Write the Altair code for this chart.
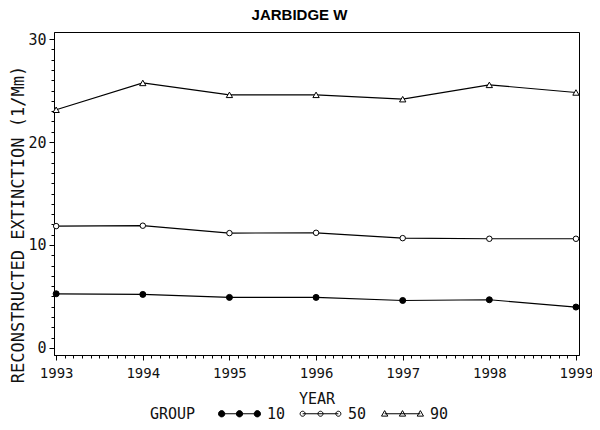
import altair as alt
import pandas as pd

# ---- data ----
years = [1993, 1994, 1995, 1996, 1997, 1998, 1999]
groups = ["10", "50", "90"]
p10 = [5.25, 5.19, 4.90, 4.90, 4.60, 4.67, 3.96]
p50 = [11.83, 11.87, 11.15, 11.18, 10.66, 10.60, 10.60]
p90 = [23.14, 25.75, 24.59, 24.59, 24.17, 25.56, 24.82]

rows = []
for g, vals in zip(groups, [p10, p50, p90]):
    for yr, v in zip(years, vals):
        rows.append({"year": yr, "group": g, "value": v})
df = pd.DataFrame(rows)

# axis tick positions (major + minor)
x_ticks = sorted(set(years + [round(y + k / 10, 1) for y in years[:-1] for k in range(1, 10)]))
y_ticks = list(range(0, 31))

FONT = "DejaVu Sans Mono"
TXT = "#111111"


def circ(cx, r):
    k = 0.5523 * r
    return (f"M {cx - r} 0 C {cx - r} {-k} {cx - k} {-r} {cx} {-r} "
            f"C {cx + k} {-r} {cx + r} {-k} {cx + r} 0 "
            f"C {cx + r} {k} {cx + k} {r} {cx} {r} "
            f"C {cx - k} {r} {cx - r} {k} {cx - r} 0 Z")


def tri(cx, s):
    return f"M {cx - s} {s * 0.75} L {cx + s} {s * 0.75} L {cx} {-s} Z"


centers = [-0.85, 0.0, 0.85]
line_part = "M -0.85 0 L 0.85 0 "
leg_circle_big = line_part + " ".join(circ(c, 0.15) for c in centers)
leg_circle_small = line_part + " ".join(circ(c, 0.12) for c in centers)
leg_tri = line_part + " ".join(tri(c, 0.15) for c in centers)

x_scale = alt.Scale(domain=[1992.975, 1999.035], nice=False, zero=False)
y_scale = alt.Scale(domain=[-0.7, 30.7], nice=False, zero=False)

x_axis = alt.Axis(
    values=x_ticks,
    labelExpr="abs(datum.value - round(datum.value)) < 0.01 ? format(datum.value, 'd') : ''",
    tickSize={"condition": {"test": "abs(datum.value - round(datum.value)) < 0.01", "value": 5}, "value": 3},
    labelFont=FONT, labelFontSize=14, labelColor=TXT, labelPadding=6,
    labelOverlap=False, labelFlush=False,
    domainColor="black", tickColor="black", domainWidth=1, tickWidth=1,
    grid=False,
    title="YEAR", titleFont=FONT, titleFontSize=15, titleFontWeight="normal", titleColor=TXT,
    titleX=262.5, titleY=43, titleBaseline="middle", titleAlign="center",
)
y_axis = alt.Axis(
    values=y_ticks,
    labelExpr="datum.value % 10 === 0 ? datum.label : ''",
    tickSize={"condition": {"test": "datum.value % 10 === 0", "value": 5}, "value": 3},
    labelFont=FONT, labelFontSize=15, labelColor=TXT, labelPadding=3,
    labelOverlap=False, labelFlush=False,
    domainColor="black", tickColor="black", domainWidth=1, tickWidth=1,
    grid=False,
    title="RECONSTRUCTED EXTINCTION (1/Mm)", titleFont=FONT, titleFontSize=17,
    titleFontWeight="normal", titleColor=TXT,
    titleX=-36, titleY=192, titleBaseline="middle", titleAlign="center", titleAngle=270,
)

X = alt.X("year:Q", scale=x_scale, axis=x_axis)
Y = alt.Y("value:Q", scale=y_scale, axis=y_axis)

base = alt.Chart(df)

lines = base.mark_line(color="black", strokeWidth=1.2).encode(
    x=X, y=Y, detail="group:N",
)

pts10 = base.transform_filter(alt.datum.group == groups[0]).mark_point(
    shape="circle", filled=True, fill="black", stroke="black", strokeWidth=1, size=36, opacity=1
).encode(x=X, y=Y)
pts50 = base.transform_filter(alt.datum.group == groups[1]).mark_point(
    shape="circle", filled=True, fill="white", stroke="black", strokeWidth=1, size=30, opacity=1
).encode(x=X, y=Y)
pts90 = base.transform_filter(alt.datum.group == groups[2]).mark_point(
    shape="triangle-up", filled=True, fill="white", stroke="black", strokeWidth=1, size=40, opacity=1
).encode(x=X, y=Y)

leg = dict(
    title="GROUP", orient="none", legendX=96, legendY=360, direction="horizontal",
    titleOrient="left", titleFont=FONT, titleFontSize=15, titleFontWeight="normal", titleColor=TXT,
    titleBaseline="top", titleAnchor="middle", titlePadding=22,
    labelFont=FONT, labelFontSize=15, labelColor=TXT, labelOffset=6, columnPadding=12,
    symbolSize=1764, symbolStrokeWidth=1, symbolOpacity=1,
)

legend_layer = base.mark_point(filled=True, strokeWidth=1, size=1764, opacity=0).encode(
    x=X, y=Y,
    shape=alt.Shape("group:N", scale=alt.Scale(domain=groups, range=[leg_circle_big, leg_circle_small, leg_tri]),
                    legend=alt.Legend(**leg)),
    fill=alt.Fill("group:N", scale=alt.Scale(domain=groups, range=["black", "white", "white"]),
                  legend=alt.Legend(**leg)),
    stroke=alt.Stroke("group:N", scale=alt.Scale(domain=groups, range=["black", "black", "black"]),
                      legend=alt.Legend(**leg)),
)

chart = alt.layer(lines, pts10, pts50, pts90, legend_layer).properties(
    width=525,
    height=323,
    autosize=alt.AutoSizeParams(type="none"),
    padding={"left": 46, "top": 24, "right": 13, "bottom": 67},
    title=alt.TitleParams("JARBIDGE W", font="Liberation Sans", fontSize=15, fontWeight="bold",
                          color="black", anchor="middle", dx=-17, dy=15, offset=12, baseline="alphabetic"),
).configure_view(stroke="black", strokeWidth=1)

chart.save("out.html", embed_options={"renderer": "svg", "actions": False})
